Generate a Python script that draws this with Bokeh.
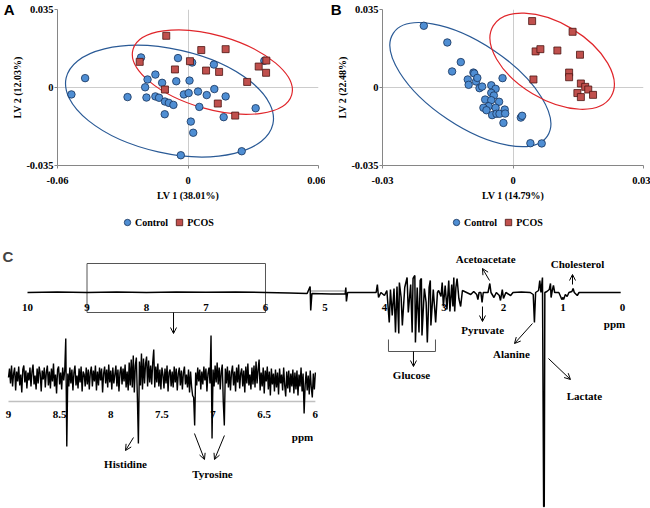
from bokeh.plotting import figure
from bokeh.models import (Range1d, FixedTicker, Legend, LegendItem, Label, Arrow, OpenHead, LinearAxis)
from bokeh.layouts import column, row
from bokeh.embed import file_html
from bokeh.resources import INLINE
from bokeh.core.properties import value

# ---------------- Panel A: PLS-DA scores ----------------
a_ctrl_x = [-0.0536, -0.0473, -0.0278, -0.0216, -0.0186, -0.0197, -0.0191, -0.0150, -0.0150, -0.0133,
            -0.0119, -0.0106, -0.0088, -0.0067, -0.0107, -0.0054, -0.0046, -0.0019, 0.0003, 0.0007,
            0.0019, 0.0046, 0.0086, 0.0052, 0.0119, 0.0121, 0.0173, 0.0164, 0.0013, 0.0024,
            -0.0033, 0.0247, 0.0311, 0.0351]
a_ctrl_y = [-0.0031, 0.0042, -0.0043, 0.0135, 0.0036, 0.0001, -0.0045, 0.0058, -0.0040, -0.0046,
            0.0021, -0.0063, -0.0069, -0.0078, -0.0120, 0.0028, 0.0132, -0.0031, -0.0025, 0.0031,
            0.0112, -0.0018, -0.0034, -0.0087, 0.0103, -0.0007, -0.0040, -0.0133, -0.0153, -0.0203,
            -0.0304, -0.0286, -0.0093, 0.0120]
a_pcos_x = [-0.0100, -0.0222, 0.0061, 0.0173, 0.0009, -0.0060, 0.0083, 0.0143, 0.0272, 0.0325,
            0.0360, 0.0359, -0.0106, 0.0137, 0.0217]
a_pcos_y = [0.0232, 0.0115, 0.0168, 0.0172, 0.0118, 0.0081, 0.0076, 0.0070, 0.0025, 0.0094,
            0.0121, 0.0066, -0.0009, -0.0072, -0.0126]
# confidence ellipses (Control, PCOS): centre, width, height, angle
a_ell_x = [-0.0085, 0.0112]
a_ell_y = [-0.0061, 0.0069]
a_ell_w = [0.0974, 0.0759]
a_ell_h = [0.0467, 0.0332]
a_ell_angle = [-0.22, -0.28]
a_xticks = [-0.06, 0, 0.06]
a_xtick_labels = ["-0.06", "0", "0.06"]
a_xtitle = "LV 1 (38.01%)"
a_ytitle = "LV 2 (12.03%)"

# ---------------- Panel B: OPLS-DA scores ----------------
b_ctrl_x = [-0.0205, -0.0151, -0.0120, -0.0140, -0.0091, -0.0089, -0.0104, -0.0102, -0.0085, -0.0082,
            -0.0077, -0.0071, -0.0050, -0.0040, -0.0050, -0.0044, -0.0064, -0.0050, -0.0032, -0.0056,
            -0.0068, -0.0061, -0.0040, -0.0048, -0.0038, -0.0031, -0.0019, -0.0018, -0.0024, -0.0022,
            0.0018, 0.0021, 0.0040, 0.0066]
b_ctrl_y = [0.0277, 0.0202, 0.0114, 0.0072, 0.0067, 0.0063, 0.0036, 0.0012, 0.0027, 0.0043,
            -0.0003, 0.0004, 0.0010, -0.0006, -0.0024, -0.0036, -0.0054, -0.0057, -0.0064, -0.0084,
            -0.0091, -0.0102, -0.0091, -0.0124, -0.0118, -0.0118, -0.0099, -0.0117, 0.0042, -0.0159,
            -0.0135, -0.0127, -0.0250, -0.0251]
b_pcos_x = [0.0044, 0.0137, 0.0052, 0.0063, 0.0102, 0.0154, 0.0129, 0.0129, 0.0047, 0.0156,
            0.0166, 0.0173, 0.0148, 0.0156, 0.0184]
b_pcos_y = [0.0298, 0.0250, 0.0162, 0.0172, 0.0166, 0.0147, 0.0067, 0.0046, 0.0036, 0.0018,
            0.0003, -0.0009, -0.0025, -0.0043, -0.0033]
b_ell_x = [-0.0098, 0.0090]
b_ell_y = [0.0013, 0.0118]
b_ell_w = [0.0426, 0.0316]
b_ell_h = [0.0372, 0.0341]
b_ell_angle = [-0.59, -0.54]
b_xticks = [-0.03, 0, 0.03]
b_xtick_labels = ["-0.03", "0", "0.03"]
b_xtitle = "LV 1 (14.79%)"
b_ytitle = "LV 2 (22.48%)"

y_ticks = [-0.035, 0, 0.035]
y_tick_labels = ["-0.035", "0", "0.035"]
groups = ["Control", "PCOS"]

# ---------------- Panel C: 1H NMR difference spectrum ----------------
spec_ppm = [10.00, 9.50, 9.00, 8.50, 8.00, 7.50, 7.00, 6.50, 6.00, 5.60, 5.30, 5.25, 5.24, 5.22, 4.90,
            4.66, 4.65, 4.64, 4.62, 4.30, 4.14, 4.12, 4.10, 4.06, 4.00, 3.96, 3.92, 3.90, 3.87, 3.84,
            3.815, 3.79, 3.76, 3.75, 3.72, 3.70, 3.66, 3.62, 3.60, 3.56, 3.535, 3.52, 3.49, 3.48, 3.45,
            3.42, 3.40, 3.38, 3.37, 3.33, 3.30, 3.28, 3.25, 3.23, 3.22, 3.18, 3.14, 3.11, 3.09, 3.05,
            3.03, 3.01, 2.98, 2.95, 2.92, 2.90, 2.87, 2.85, 2.835, 2.82, 2.80, 2.78, 2.75, 2.72, 2.69,
            2.62, 2.55, 2.50, 2.45, 2.43, 2.41, 2.38, 2.36, 2.34, 2.26, 2.23, 2.21, 2.16, 2.12, 2.07,
            2.05, 2.02, 2.00, 1.96, 1.88, 1.84, 1.70, 1.55, 1.50, 1.48, 1.46, 1.41, 1.39, 1.37, 1.345,
            1.325, 1.315, 1.305, 1.27, 1.23, 1.21, 1.20, 1.18, 1.16, 1.14, 1.07, 1.04, 1.02, 1.00, 0.99,
            0.96, 0.93, 0.90, 0.85, 0.83, 0.81, 0.76, 0.73, 0.50, 0.20, 0.03]
spec_int = [0, 0.5, 0, 0.5, 0, 0.5, 0.3, 0.5, 0, -0.5, -1, 6, -18, -1, -1.5,
            -1.5, 5, -9, 0, 0, 0, 8, -5, 0, -3, 2, -30, 3, -23, 4,
            -40, 6, -41, 10, -5, -33, 5, 15, -20, 8, -40, 14, 17, -50, 5,
            -40, 12, 14, -43, 4, -10, -50, 5, 12, -33, 3, -30, 0, 2, -4,
            10, -14, 7, -17, 12, -19, 8, -14, 15, -19, 5, 14, -6, -14, 2,
            0, -2, 1, -2, -7, 0, 0, -10, 0, 0, 9, 0, -5, 0, -3,
            -8, 3, -6, 0, -3, 0, 0.5, 0, -2, -30, 0, 2, 12, 0, 15,
            -214, -214, 0, 1, 3, 9, -5, 2, 7, 0, 0, -4, -7, -5, -7,
            -2, -4, 0, 1, 4, 0, -3, 0, 0, 0, 0]
spec_ticks = [10, 9, 8, 7, 6, 5, 4, 3, 2, 1, 0]
spec_tick_labels = ["10", "9", "8", "7", "6", "5", "4", "3", "2", "1", "0"]

# aromatic region 9.00 -> 6.00 ppm, read every 0.01 ppm
inset_int = [0, 9, -6, 12, -9, 4, 10, -13, 6, -4, 11, -8, 3, -15, 8, 12, -5, 7, -11, 5,
             -3, 10, -9, 6, 13, -7, 2, -12, 9, -6, 11, 4, -14, 7, -2, 10, -10, 5, 12, -8,
             6, -11, 9, -4, 14, -9, 3, -16, 8, 11, -7, 5, -12, 10, -3, 7, 39, -69, 4, -9,
             10, -6, 8, -13, 5, 12, -8, 2, -11, 9, -5, 11, -14, 6, 3, -9, 10, -7, 8, -12,
             5, 11, -9, 7, -4, 12, -13, 6, -8, 10, -3, 9, -15, 4, 11, -6, 8, -10, 13, -5,
             7, -12, 10, -6, 3, 12, -9, 8, -14, 5, 11, -7, 9, -4, 13, -10, 6, -13, 15, -8,
             18, -10, 22, -15, 12, 20, -20, -66, 16, -8, 24, -12, 19, -6, 14, 21, -9, 17, -5, 12,
             -7, 15, 28, -10, 11, -5, 14, -9, 8, -12, 10, 3, -11, 9, -6, 12, -14, 5, 8, -9,
             6, -10, 11, -5, 9, -13, 4, 10, -8, 7, -12, 5, 11, -7, 3, -10, 8, -15, 6, -9,
             -18, -20, -48, 5, -8, 10, -4, 8, -12, 6, -7, 11, -3, 9, -14, 4, 10, -6, 42, -61,
             8, -9, 12, -5, 15, -7, 10, -12, 6, 13, -25, -48, 9, -6, 11, -10, 7, -13, 5, 12,
             -8, 6, -14, 10, -5, 13, -11, 4, 9, -9, 7, -15, 11, -6, 14, -8, 3, -12, 10, -7,
             12, -10, 16, -6, 8, 18, -13, 5, -9, 10, -16, 7, -4, 11, -12, 6, -18, 9, -7, 4,
             -14, 8, -10, 5, -17, 9, -6, 3, -13, 10, -8, -19, 6, -11, 7, -15, 4, -9, 8, -16,
             5, -12, 7, -18, 3, -9, 10, -14, 4, -36, -8, 6, -13, 2, -17, 7, -10, -20, 4, -12,
             5]
inset_ppm = [round(9.0 - 0.01 * i, 2) for i in range(len(inset_int))]
inset_ticks = [9, 8.5, 8, 7.5, 7, 6.5, 6]
inset_tick_labels = ["9", "8.5", "8", "7.5", "7", "6.5", "6"]

main_names = ["Acetoacetate", "Cholesterol", "Pyruvate", "Alanine", "Lactate", "Glucose"]
inset_names = ["Histidine", "Tyrosine"]

# ---------------- styling ----------------
SERIF = "Liberation Serif"
SANS = "Liberation Sans"
BLUE, BLUE_EDGE = "#4f8ed3", "#17325a"
RED, RED_EDGE = "#c0504d", "#4a1412"
ELL_BLUE, ELL_RED = "#2a5a96", "#e0262b"
CTRL_STYLE = dict(marker="circle", size=7.5, fill_color=BLUE, line_color=BLUE_EDGE, line_width=0.8)
PCOS_STYLE = dict(marker="square", size=7, fill_color=RED, line_color=RED_EDGE, line_width=0.8)


def score_plot(xr, xticks, xlabels, xtitle, ytitle, cx, cy, px, py,
               ex, ey, ew, eh, ea, border_left, letter, letter_standoff):
    p = figure(width=325, height=214, x_range=Range1d(*xr), y_range=Range1d(-0.035, 0.035),
               output_backend="svg", toolbar_location=None,
               min_border_left=border_left, min_border_right=7, min_border_top=9, min_border_bottom=49)
    p.outline_line_color = None
    p.background_fill_color = "white"
    p.border_fill_color = "white"
    p.xaxis.ticker = FixedTicker(ticks=xticks)
    p.yaxis.ticker = FixedTicker(ticks=y_ticks)
    p.xaxis.major_label_overrides = dict(zip(xticks, xlabels))
    p.yaxis.major_label_overrides = dict(zip(y_ticks, y_tick_labels))
    p.xaxis.axis_label = xtitle
    p.yaxis.axis_label = ytitle
    for ax in (p.xaxis, p.yaxis):
        ax.axis_line_color = "#868686"
        ax.major_tick_line_color = "#868686"
        ax.major_tick_out = 3
        ax.major_tick_in = 0
        ax.minor_tick_line_color = None
        ax.major_label_text_font = SERIF
        ax.major_label_text_font_style = "bold"
        ax.major_label_text_font_size = "10.5px"
        ax.major_label_text_color = "black"
        ax.axis_label_text_font = SERIF
        ax.axis_label_text_font_style = "bold"
        ax.axis_label_text_font_size = "10px"
        ax.axis_label_text_color = "black"
    p.xaxis.major_label_standoff = 8
    p.xaxis.axis_label_standoff = 3
    p.yaxis.major_label_standoff = 1
    p.yaxis.axis_label_standoff = 0
    p.grid.grid_line_color = "#cccccc"
    p.grid.grid_line_width = 1

    # panel letter, drawn as the single tick label of an outer left axis
    lax = LinearAxis(ticker=FixedTicker(ticks=[0.035]), major_label_overrides={0.035: letter},
                     axis_line_color=None, major_tick_line_color=None, minor_tick_line_color=None,
                     major_tick_out=0, major_tick_in=0, major_label_standoff=letter_standoff,
                     major_label_text_font=SANS, major_label_text_font_style="bold",
                     major_label_text_font_size="15px", major_label_text_color="black")
    p.add_layout(lax, "left")

    p.ellipse(x=ex[:1], y=ey[:1], width=ew[:1], height=eh[:1], angle=ea[:1],
              fill_color=None, line_color=ELL_BLUE, line_width=1.2)
    p.ellipse(x=ex[1:], y=ey[1:], width=ew[1:], height=eh[1:], angle=ea[1:],
              fill_color=None, line_color=ELL_RED, line_width=1.2)
    p.scatter(cx, cy, **CTRL_STYLE)
    p.scatter(px, py, **PCOS_STYLE)
    return p


pA = score_plot((-0.06, 0.06), a_xticks, a_xtick_labels, a_xtitle, a_ytitle,
                a_ctrl_x, a_ctrl_y, a_pcos_x, a_pcos_y,
                a_ell_x, a_ell_y, a_ell_w, a_ell_h, a_ell_angle, 50, "A", -5)
pB = score_plot((-0.03, 0.03), b_xticks, b_xtick_labels, b_xtitle, b_ytitle,
                b_ctrl_x, b_ctrl_y, b_pcos_x, b_pcos_y,
                b_ell_x, b_ell_y, b_ell_w, b_ell_h, b_ell_angle, 57, "B", -7)

# ---------------- legend strip under panels A and B ----------------
# legend proxies: one real score each, lying outside this strip's ranges (not drawn)
pL = figure(width=650, height=16, x_range=Range1d(1, 2), y_range=Range1d(1, 2),
            output_backend="svg", toolbar_location=None, x_axis_location=None, y_axis_location=None,
            min_border=0)
pL.outline_line_color = None
pL.grid.visible = False
lc = pL.scatter(x=a_ctrl_x[:1], y=a_ctrl_y[:1], **CTRL_STYLE)
lp = pL.scatter(x=a_pcos_x[:1], y=a_pcos_y[:1], **PCOS_STYLE)
for lx in (119, 448):
    pL.add_layout(Legend(items=[LegendItem(label=groups[0], renderers=[lc]),
                                LegendItem(label=groups[1], renderers=[lp])],
                         location=(lx, 0), orientation="horizontal",
                         padding=0, margin=0, spacing=3, glyph_width=16, glyph_height=16,
                         label_standoff=0, label_height=16,
                         label_text_font=SERIF, label_text_font_style="bold", label_text_font_size="10px",
                         label_text_color="black",
                         border_line_color=None, background_fill_alpha=0))

# ---------------- Panel C figure ----------------
pC = figure(width=650, height=278, x_range=Range1d(10.454, -0.471), y_range=Range1d(-216, 62),
            output_backend="svg", toolbar_location=None, x_axis_location=None, y_axis_location=None,
            min_border=0)
pC.outline_line_color = None
pC.grid.visible = False
pC.extra_x_ranges = {"ix": Range1d(9.078, 2.724)}
pC.extra_y_ranges = {"iy": Range1d(-131, 147)}

TXT = dict(text_font=value(SERIF), text_font_style="bold", text_font_size="11px",
           text_align="center", text_baseline="middle", text_color="black")

# zoom box and bracket
pC.quad(left=[9], right=[6], top=[29], bottom=[-20], fill_color=None, line_color="#555555", line_width=1)
pC.multi_line(xs=[[3.933, 3.933, 3.143, 3.143]], ys=[[-47, -59, -59, -47]], line_color="#555555", line_width=1)
pC.line([5.24, 4.64], [1.5, 1.5], line_color="#aaaaaa", line_width=1.5)
# main spectrum
pC.line(spec_ppm, spec_int, line_color="black", line_width=1.5)
pC.text(x=spec_ticks, y=[-15] * len(spec_ticks), text=spec_tick_labels, **TXT)

main_lab_x = [2.30, 0.756, 2.35, 1.866, 0.64, 3.546, 0.134]
main_lab_y = [34, 29, -37, -61, -103, -82, -31]
pC.text(x=main_lab_x, y=main_lab_y, text=main_names + ["ppm"], **TXT)

main_arrows = [(2.235, 12, 2.353, 24), (0.840, 8, 0.840, 18), (2.353, -14, 2.353, -29),
               (1.513, -31, 1.815, -51), (1.244, -66, 0.874, -87), (3.513, -59, 3.513, -74),
               (7.546, -20, 7.546, -41)]
for xs, ys, xe, ye in main_arrows:
    pC.add_layout(Arrow(x_start=xs, y_start=ys, x_end=xe, y_end=ye, line_width=1, line_color="black",
                        end=OpenHead(size=6, line_width=1, line_color="black")))

# inset
pC.line([9, 6], [-24, -24], x_range_name="ix", y_range_name="iy", line_color="#c0c0c0", line_width=1.5)
pC.line(inset_ppm, inset_int, x_range_name="ix", y_range_name="iy", line_color="black", line_width=1.4)
pC.text(x=inset_ticks, y=[-37] * len(inset_ticks), text=inset_tick_labels,
        x_range_name="ix", y_range_name="iy", **TXT)
pC.text(x=[7.856, 7.006, 6.126], y=[-86, -96, -59], text=inset_names + ["ppm"],
        x_range_name="ix", y_range_name="iy", **TXT)
inset_arrows = [(7.778, -60, 7.856, -73), (7.182, -56, 7.084, -82), (6.889, -58, 6.986, -82)]
for xs, ys, xe, ye in inset_arrows:
    pC.add_layout(Arrow(x_start=xs, y_start=ys, x_end=xe, y_end=ye, line_width=1, line_color="black",
                        x_range_name="ix", y_range_name="iy",
                        end=OpenHead(size=6, line_width=1, line_color="black")))

pC.add_layout(Label(x=2, y=252, x_units="screen", y_units="screen", text="C",
                    text_font=SANS, text_font_style="bold", text_font_size="15px",
                    text_baseline="middle", text_align="left"))

layout = column(row(pA, pB), pL, pC)
open("out.html", "w").write(file_html(layout, INLINE))
